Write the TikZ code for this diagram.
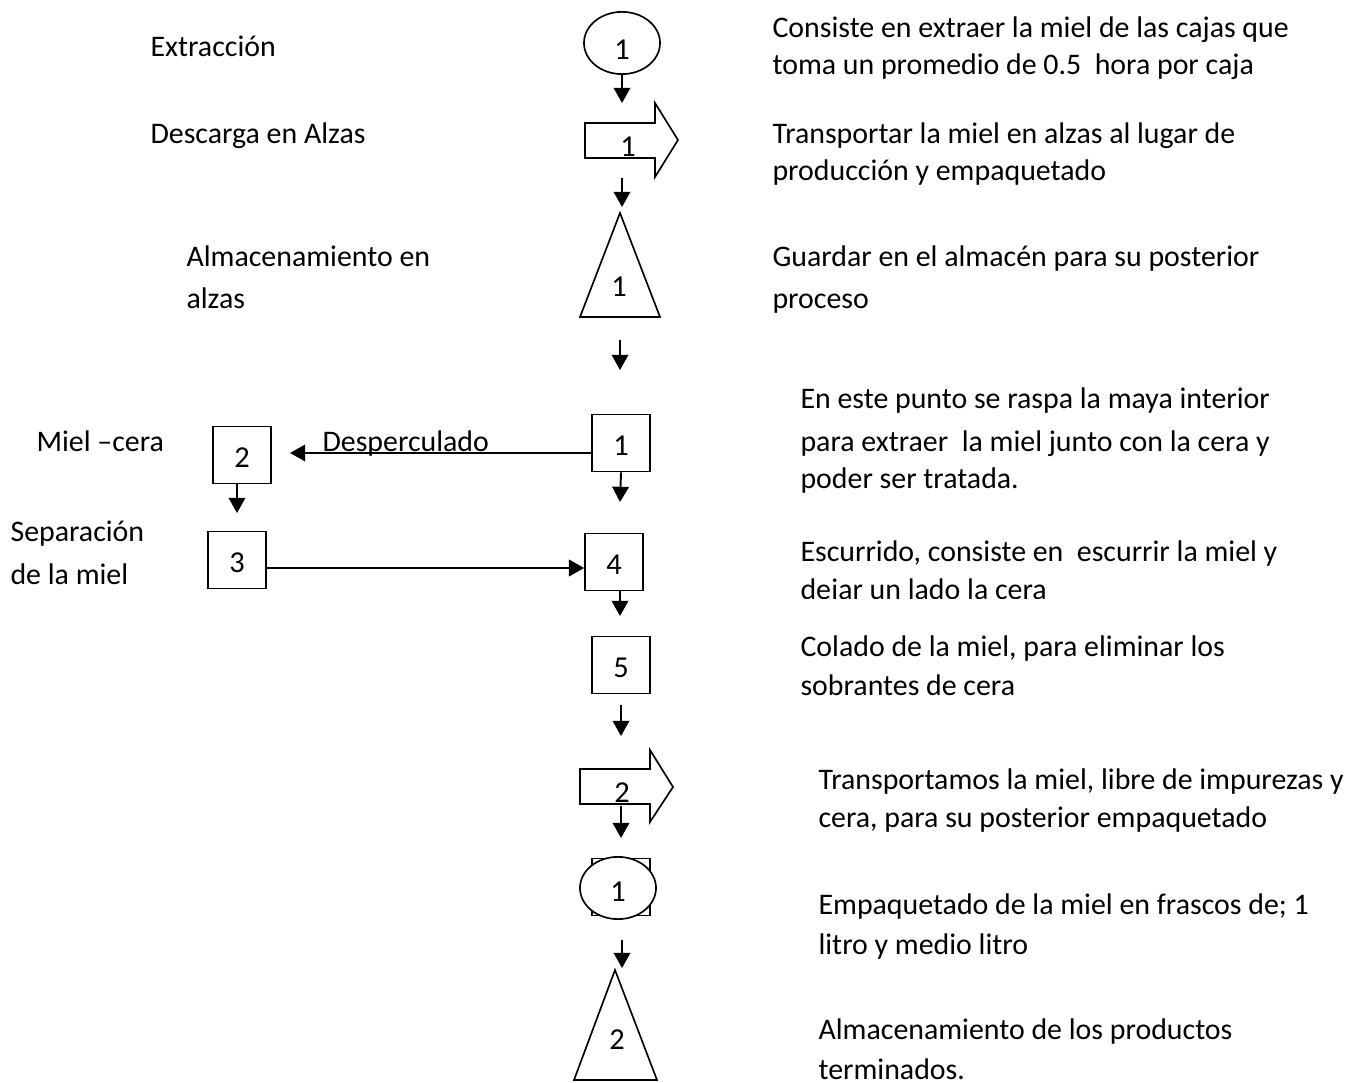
\documentclass[tikz,border=0pt]{standalone}
\usepackage{fontspec}
\setmainfont{Carlito}
\usetikzlibrary{arrows.meta,shapes.geometric}
\begin{document}
\begin{tikzpicture}[x=0.3616pt,y=-0.3616pt,
	txt/.style={anchor=base west,inner sep=0pt,font=\fontsize{10.8}{14}\selectfont},
	num/.style={inner sep=0pt,font=\fontsize{11}{14}\selectfont},
	caja/.style={draw,line width=0.6pt,minimum width=21pt,minimum height=20.6pt,inner sep=0pt},
	elip/.style={draw,ellipse,line width=0.6pt,fill=white,minimum width=27.5pt,minimum height=22.5pt,inner sep=0pt},
	flecha/.style={line width=0.7pt,-{Triangle[width=6pt,length=5.5pt]}},
	forma/.style={line width=0.6pt,line join=miter}]

	\useasboundingbox (0,0) rectangle (1355,1083);

	\node[txt] (ext) at (150,57) {Extracción};
	\node[txt] (desc) at (150,144) {Descarga en Alzas};
	\node[txt] (alm1) at (186,267) {Almacenamiento en};
	\node[txt] (alm2) at (186,309) {alzas};
	\node[txt] (mc) at (36,452) {Miel –cera};
	\node[txt] (desp) at (322,452) {Desperculado};
	\node[txt] (sep1) at (10,542) {Separación};
	\node[txt] (sep2) at (10,584) {de la miel};

	\node[elip] (e1) at (622,43) {};
	\node[num] at (622,50) {1};
	\coordinate (f1) at (622,103);
	\draw[flecha] (e1.south) -- (f1);

	\draw[forma] (585,123) -- (655,123) -- (655,103) -- (678,140) -- (655,177)
		-- (655,158) -- (585,158) -- cycle;
	\node[num] (t1) at (628,147) {1};
	\coordinate (f2a) at (622,178);
	\coordinate (f2b) at (622,207);
	\draw[flecha] (f2a) -- (f2b);

	\draw[forma] (620,213) -- (660,317) -- (580,317) -- cycle;
	\node[num] (a1) at (619,287) {1};
	\coordinate (f3a) at (620,340);
	\coordinate (f3b) at (620,370);
	\draw[flecha] (f3a) -- (f3b);

	\node[caja] (c1) at (621,443) {};
	\node[num] at (621,446) {1};
	\node[caja] (c2) at (242,455) {};
	\node[num] at (242,458) {2};
	\draw[flecha] (c1.west) ++(0,10) coordinate (d1) -- (290,453) coordinate (d2);
	\coordinate (f4) at (620,502);
	\draw[flecha] (c1.south) -- (f4);
	\coordinate (f5) at (237,513);
	\draw[flecha] (237,483) -- (f5);

	\node[caja] (c3) at (237,560) {};
	\node[num] at (237,563) {3};
	\node[caja] (c4) at (614,562) {};
	\node[num] at (614,565) {4};
	\draw[flecha] (c3.east |- 0,568) -- (c4.west |- 0,568);
	\coordinate (f6) at (620,616);
	\draw[flecha] (620,591) -- (f6);

	\node[caja] (c5) at (621,665) {};
	\node[num] at (621,668) {5};
	\coordinate (f7a) at (621,705);
	\coordinate (f7b) at (621,736);
	\draw[flecha] (f7a) -- (f7b);

	\draw[forma] (580,769) -- (650,769) -- (650,750) -- (673,787) -- (650,822)
		-- (650,804) -- (580,804) -- cycle;
	\node[num] (t2) at (622,793) {2};
	\coordinate (f8a) at (621,806);
	\coordinate (f8b) at (621,838);
	\draw[flecha] (f8a) -- (f8b);

	\node[caja] (c6) at (621,887) {};
	\node[elip] (e2) at (618,888) {};
	\node[num] at (618,892) {1};
	\coordinate (f9a) at (622,940);
	\coordinate (f9b) at (622,968);
	\draw[flecha] (f9a) -- (f9b);

	\draw[forma] (615,970) -- (657,1080) -- (574,1080) -- cycle;
	\node[num] (a2) at (617,1040) {2};

	\node[txt] (d1a) at (772,38) {Consiste en extraer la miel de las cajas que};
	\node[txt] (d1b) at (772,75) {toma un promedio de 0.5\ \ hora por caja};
	\node[txt] (d2a) at (772,144) {Transportar la miel en alzas al lugar de};
	\node[txt] (d2b) at (772,181) {producción y empaquetado};
	\node[txt] (d3a) at (772,267) {Guardar en el almacén para su posterior};
	\node[txt] (d3b) at (772,309) {proceso};
	\node[txt] (d4a) at (800,409) {En este punto se raspa la maya interior};
	\node[txt] (d4b) at (800,452) {para extraer\ \ la miel junto con la cera y};
	\node[txt] (d4c) at (800,489) {poder ser tratada.};
	\node[txt] (d5a) at (800,561) {Escurrido, consiste en\ \ escurrir la miel y};
	\begin{scope}
		\clip (780,570) rectangle (1100,598);
		\node[txt] (d5b) at (800,599) {dejar un lado la cera};
	\end{scope}
	\node[txt] (d6a) at (800,656) {Colado de la miel, para eliminar los};
	\node[txt] (d6b) at (800,695) {sobrantes de cera};
	\node[txt] (d7a) at (818,789) {Transportamos la miel, libre de impurezas y};
	\node[txt] (d7b) at (818,827) {cera, para su posterior empaquetado};
	\node[txt] (d8a) at (818,914) {Empaquetado de la miel en frascos de; 1};
	\node[txt] (d8b) at (818,954) {litro y medio litro};
	\node[txt] (d9a) at (818,1039) {Almacenamiento de los productos};
	\node[txt] (d9b) at (818,1079) {terminados.};

\end{tikzpicture}
\end{document}
